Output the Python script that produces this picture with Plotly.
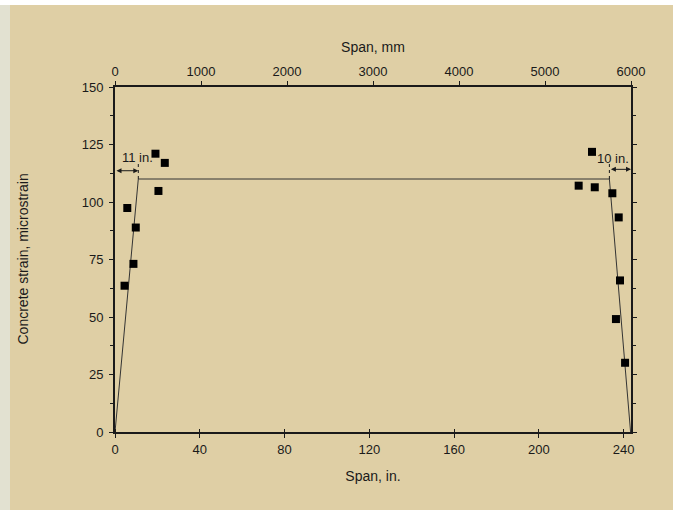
import plotly.graph_objects as go

# Data
meas_x = [4.5, 5.8, 8.7, 9.8, 19.1, 20.5, 23.5,
          218.8, 225.1, 226.4, 234.7, 237.7, 238.3, 236.4, 240.7]
meas_y = [63.6, 97.4, 73.1, 88.9, 121.0, 104.8, 117.0,
          107.1, 121.8, 106.4, 103.8, 93.3, 65.9, 49.1, 30.1]
model_x = [0, 11, 233.3, 243.3]
model_y = [0, 110, 110, 0]
in_ticks = [0, 40, 80, 120, 160, 200, 240]
mm_ticks = [0, 1000, 2000, 3000, 4000, 5000, 6000]
y_ticks = [0, 25, 50, 75, 100, 125, 150]

BG = "#DFCFA5"
INK = "#1a1a1a"
FONT = "Liberation Sans, Arial, sans-serif"
XMAX = 243.5

fig = go.Figure()
fig.add_trace(go.Scatter(x=model_x, y=model_y, mode="lines",
                         line=dict(color="#333333", width=1), showlegend=False,
                         hoverinfo="skip"))
fig.add_trace(go.Scatter(x=meas_x, y=meas_y, mode="markers",
                         marker=dict(symbol="square", size=8, color="black"),
                         showlegend=False))
# invisible trace to activate the top (mm) axis
fig.add_trace(go.Scatter(x=[mm_ticks[0], mm_ticks[-1]], y=[0, 0], xaxis="x2",
                         mode="markers", marker=dict(opacity=0), showlegend=False,
                         hoverinfo="skip"))

axis_common = dict(showgrid=False, zeroline=False, showline=True, linecolor=INK,
                   linewidth=2, ticks="outside", tickcolor=INK, ticklen=4,
                   tickfont=dict(family=FONT, size=13, color=INK))

fig.update_layout(
    width=673, height=510,
    margin=dict(l=115, r=42, t=87, b=78),
    paper_bgcolor=BG, plot_bgcolor=BG,
    font=dict(family=FONT, size=13, color=INK),
    xaxis=dict(range=[0, XMAX], tickvals=in_ticks, mirror=False,
               title=dict(text="Span, in.", font=dict(size=14), standoff=16),
               minor=dict(ticks="inside", ticklen=3, tickcolor=INK, tickvals=in_ticks),
               **axis_common),
    xaxis2=dict(range=[0, 6000], tickvals=mm_ticks, overlaying="x", side="top",
                anchor="y",
                title=dict(text="Span, mm", font=dict(size=14), standoff=8),
                **axis_common),
    yaxis=dict(range=[0, 150], tickvals=y_ticks, mirror="ticks",
               ticklabelstandoff=3,
               minor=dict(ticks="outside", ticklen=3, tickcolor=INK, dtick=12.5),
               **axis_common),
)

# y-axis title placed like the reference
fig.add_annotation(xref="paper", yref="paper", x=(22 - 115) / 516, y=0.5,
                   xanchor="center", yanchor="middle",
                   text="Concrete strain, microstrain", textangle=-90,
                   showarrow=False, font=dict(size=14, color=INK))

# left grey strip and top white strip (page frame)
fig.add_shape(type="rect", xref="paper", yref="paper",
              x0=-115/516, x1=-105/516, y0=-78/345, y1=432/345,
              fillcolor="#E2E1D1", line=dict(width=0), layer="below")
fig.add_shape(type="rect", xref="paper", yref="paper",
              x0=-115/516, x1=558/516, y0=427/345, y1=432/345,
              fillcolor="white", line=dict(width=0), layer="below")

# dimension annotations
arr = dict(showarrow=True, arrowhead=2, arrowsize=1, arrowwidth=1,
           arrowcolor=INK, arrowside="end+start", text="",
           axref="x", ayref="y")
fig.add_annotation(x=11, y=113.6, ax=0, ay=113.6, **arr)
fig.add_annotation(x=XMAX, y=114.2, ax=233.3, ay=114.2, **arr)
fig.add_annotation(x=10.4, y=119.5, text="11 in.", showarrow=False,
                   font=dict(size=13, color=INK))
fig.add_annotation(x=235.0, y=119.0, text="10 in.", showarrow=False,
                   font=dict(size=13, color=INK))
fig.add_shape(type="line", x0=11, x1=11, y0=110, y1=117,
              line=dict(color=INK, width=1, dash="dot"))
fig.add_shape(type="line", x0=233.3, x1=233.3, y0=110, y1=117,
              line=dict(color=INK, width=1, dash="dot"))

fig.write_html("out.html", config={"displayModeBar": False},
               post_script="document.body.style.margin='0';document.body.style.padding='0';")
